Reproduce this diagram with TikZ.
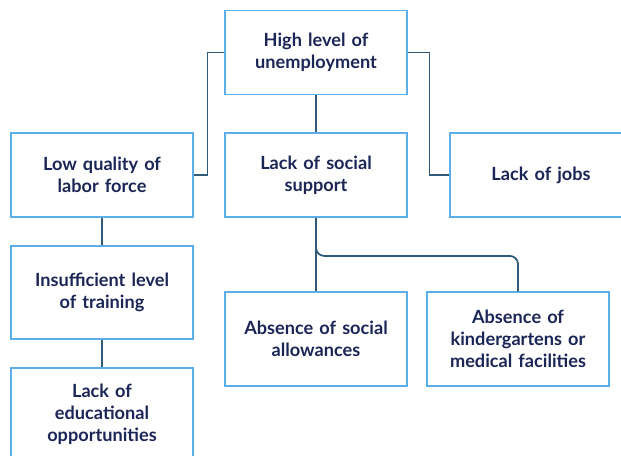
\documentclass[tikz,border=0pt]{standalone}
\usepackage{fontspec}
\setmainfont{Lato}
\usetikzlibrary{positioning}

\definecolor{boxblue}{HTML}{5BAEE8}
\definecolor{linkblue}{HTML}{2F5B78}
\definecolor{textnavy}{HTML}{1B2657}

\begin{document}
\begin{tikzpicture}[x=0.03cm, y=-0.03cm,
	every node/.style={font=\bfseries\fontsize{15.5}{19}\selectfont, text=textnavy},
	cause/.style={draw=boxblue, line width=1.6pt, fill=white, minimum width=5.4cm, minimum height=2.52cm, align=center, text width=5.2cm},
	tall/.style={cause, minimum height=2.8cm},
	link/.style={draw=linkblue, line width=1.5pt}]
	\useasboundingbox (0,0) rectangle (621,456);
	\clip (0,0) rectangle (621,456);
	% top level and first row
	\node[cause] (unemp) at (316,52.5) {High level of\\unemployment};
	\node[cause] (labor) at (102,175) {Low quality of\\labor force};
	\node[cause] (support) at (316,175) {Lack of social\\support};
	\node[cause] (jobs) at (541,175) {Lack of jobs};
	% left column
	\node[tall] (training) at (102,292.5) {Insufficient level\\of training};
	\node[tall] (educ) at (102,414.5) {Lack of\\educational\\opportunities};
	% below social support
	\node[tall] (allow) at (316,339) {Absence of social\\allowances};
	\node[tall] (kinder) at (518,339) {Absence of\\kindergartens or\\medical facilities};
	% connectors
	\draw[link] (unemp.west) -- ++(-17,0) |- (labor.east);
	\draw[link] (unemp.east) -- ++(22,0) |- (jobs.west);
	\draw[link] (unemp) -- (support);
	\draw[link] (support.south) -- (allow.north);
	\draw[link, rounded corners=7pt] (support.south) -- ++(0,38) -| (kinder.north);
	\draw[link] (labor) -- (training);
	\draw[link] (training) -- (educ);
\end{tikzpicture}
\end{document}
